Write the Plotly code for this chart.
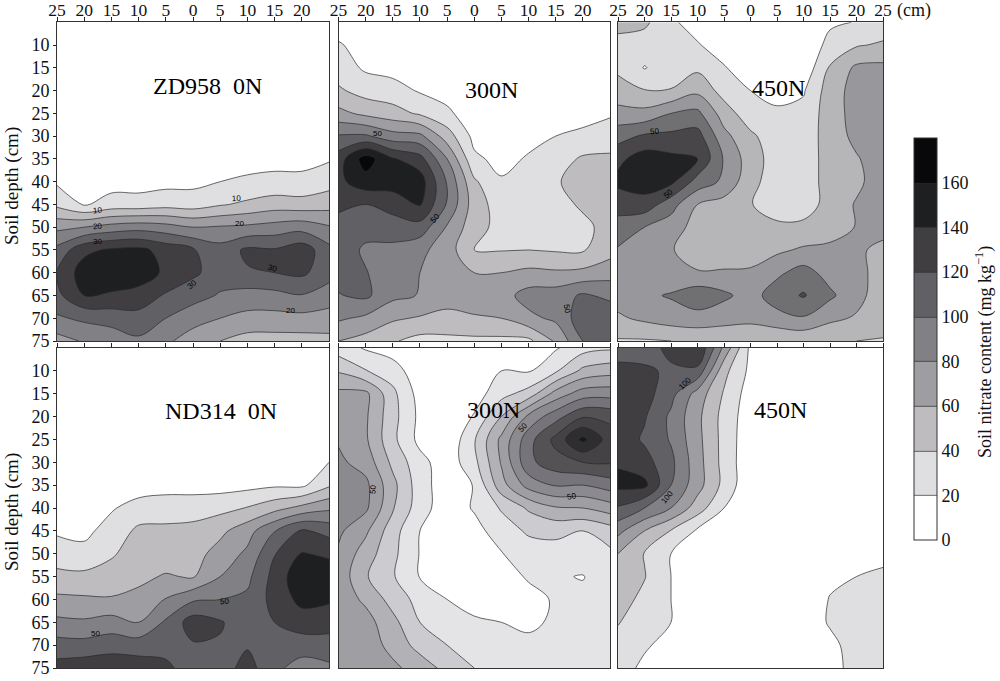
import numpy as np
import plotly.graph_objects as go

# grid
offsets = [-25, -20, -15, -10, -5, 0, 5, 10, 15, 20, 25]
depths = [5, 10, 15, 20, 25, 30, 35, 40, 45, 50, 55, 60, 65, 70, 75]
x_tick_text = ["25", "20", "15", "10", "5", "0", "5", "10", "15", "20", "25"]
y_ticks = [10, 15, 20, 25, 30, 35, 40, 45, 50, 55, 60, 65, 70, 75]
bar_ticks = [0, 20, 40, 60, 80, 100, 120, 140, 160]

# values on the colour-bar scale: one row per depth (ZD958 0N)
zd_0n = [
    [0, 0, 0, 0, 0, 0, 0, 0, 0, 0, 0],
    [0, 0, 0, 0, 0, 0, 0, 0, 0, 0, 0],
    [0, 0, 0, 0, 0, 0, 0, 0, 0, 0, 0],
    [0, 0, 0, 0, 0, 0, 0, 0, 0, 0, 1],
    [1, 1, 1, 1, 1, 1, 2, 2, 2, 2, 3],
    [4, 3, 3, 3, 4, 4, 5, 6, 6, 6, 8],
    [10, 6, 7, 8, 9, 10, 12, 13, 14, 14, 18],
    [17, 8, 12, 12, 14, 15, 20, 23, 25, 25, 32],
    [35, 18, 28, 28, 32, 30, 38, 44, 50, 48, 52],
    [75, 80, 88, 92, 88, 80, 82, 84, 88, 92, 82],
    [106, 135, 143, 145, 133, 122, 108, 124, 122, 132, 106],
    [122, 150, 155, 155, 135, 124, 110, 118, 120, 124, 108],
    [115, 140, 137, 130, 118, 108, 98, 92, 94, 99, 90],
    [97, 104, 108, 114, 100, 88, 80, 74, 73, 74, 72],
    [72, 82, 88, 96, 84, 70, 60, 52, 52, 52, 54],
]
# the remaining panels: one column per offset
zd_300n = [
    [5, 23, 30, 43, 66, 102, 130, 135, 123, 115, 110, 106, 99, 83, 60],
    [2, 8, 17, 32, 55, 103, 170, 152, 120, 107, 97, 101, 104, 76, 52],
    [0, 5, 13, 28, 48, 88, 142, 148, 130, 108, 96, 90, 85, 63, 42],
    [0, 0, 8, 18, 37, 85, 128, 150, 142, 112, 85, 80, 79, 58, 33],
    [0, 0, 3, 12, 24, 50, 80, 98, 98, 78, 70, 68, 66, 56, 34],
    [0, 0, 0, 3, 8, 14, 24, 43, 50, 48, 40, 60, 65, 59, 35],
    [0, 0, 0, 0, 3, 7, 14, 22, 30, 33, 39, 60, 72, 60, 35],
    [0, 0, 0, 0, 5, 14, 22, 30, 32, 33, 40, 65, 88, 75, 35],
    [0, 0, 0, 3, 10, 20, 30, 38, 33, 32, 38, 63, 90, 84, 63],
    [0, 0, 0, 5, 15, 23, 43, 48, 43, 35, 38, 65, 103, 112, 100],
    [0, 0, 3, 8, 18, 28, 44, 48, 48, 47, 52, 72, 95, 115, 112],
]
zd_450n = [
    [45, 35, 36, 48, 67, 92, 115, 125, 108, 92, 78, 72, 68, 57, 38],
    [44, 30, 19, 41, 66, 103, 130, 130, 112, 80, 72, 70, 76, 64, 38],
    [24, 26, 30, 41, 80, 105, 125, 125, 88, 70, 62, 65, 82, 70, 40],
    [10, 22, 36, 55, 85, 108, 120, 92, 60, 52, 46, 62, 92, 73, 42],
    [0, 8, 22, 32, 50, 66, 78, 76, 52, 46, 44, 63, 84, 68, 44],
    [0, 0, 5, 20, 28, 44, 50, 46, 41, 48, 53, 62, 72, 66, 42],
    [0, 0, 0, 14, 23, 28, 30, 30, 30, 44, 56, 76, 90, 73, 42],
    [0, 0, 6, 18, 26, 30, 32, 32, 32, 44, 63, 88, 102, 78, 44],
    [16, 28, 42, 50, 50, 48, 46, 46, 46, 50, 65, 72, 84, 64, 44],
    [21, 38, 64, 68, 68, 66, 58, 55, 62, 61, 62, 66, 66, 58, 40],
    [27, 43, 65, 72, 73, 72, 72, 72, 70, 64, 57, 52, 50, 46, 39],
]
nd_0n = [
    [0, 0, 0, 0, 0, 0, 3, 6, 18, 27, 47, 64, 85, 108, 128],
    [0, 0, 0, 0, 0, 0, 2, 6, 15, 26, 45, 63, 83, 107, 132],
    [0, 0, 0, 0, 0, 1, 10, 18, 28, 38, 47, 62, 88, 112, 133],
    [0, 0, 0, 0, 0, 2, 10, 28, 44, 48, 55, 66, 80, 110, 131],
    [0, 0, 0, 0, 0, 2, 12, 31, 44, 48, 62, 81, 103, 112, 125],
    [0, 0, 0, 0, 0, 3, 12, 31, 46, 52, 58, 97, 130, 118, 109],
    [0, 0, 0, 0, 1, 3, 12, 34, 55, 68, 80, 100, 122, 118, 110],
    [0, 0, 0, 0, 1, 4, 14, 41, 72, 84, 95, 104, 108, 118, 128],
    [0, 0, 0, 0, 1, 5, 17, 53, 99, 119, 127, 127, 120, 108, 105],
    [0, 0, 0, 0, 1, 6, 16, 66, 123, 141, 155, 146, 130, 110, 91],
    [0, 0, 0, 0, 8, 20, 37, 76, 113, 137, 150, 143, 128, 112, 96],
]
nd_300n = [
    [30, 58, 85, 92, 98, 104, 110, 113, 104, 97, 93, 92, 92, 92, 92],
    [18, 41, 85, 83, 83, 92, 105, 104, 84, 70, 62, 76, 88, 90, 90],
    [10, 30, 45, 47, 45, 55, 66, 62, 48, 45, 42, 52, 66, 74, 84],
    [0, 6, 12, 15, 14, 27, 29, 29, 20, 19, 19, 33, 40, 52, 72],
    [0, 0, 0, 0, 3, 8, 8, 8, 5, 3, 5, 20, 28, 40, 53],
    [0, 2, 10, 22, 38, 34, 21, 22, 13, 6, 6, 12, 23, 28, 40],
    [3, 20, 33, 60, 85, 82, 72, 42, 30, 19, 12, 13, 20, 26, 28],
    [8, 18, 48, 105, 132, 135, 108, 63, 43, 30, 22, 14, 15, 26, 28],
    [18, 37, 88, 132, 166, 152, 122, 78, 45, 32, 22, 22, 24, 27, 28],
    [32, 65, 110, 158, 205, 160, 120, 80, 40, 33, 19, 25, 27, 28, 29],
    [37, 72, 112, 155, 170, 162, 130, 90, 50, 36, 33, 32, 32, 32, 32],
]
nd_450n = [
    [112, 125, 130, 132, 133, 138, 145, 118, 86, 60, 54, 48, 41, 34, 30],
    [112, 123, 128, 122, 117, 128, 145, 100, 60, 39, 41, 35, 30, 23, 15],
    [125, 117, 107, 96, 98, 105, 100, 80, 39, 20, 20, 20, 20, 12, 5],
    [140, 115, 72, 65, 66, 68, 68, 50, 17, 5, 2, 2, 2, 2, 2],
    [75, 46, 38, 33, 33, 33, 34, 20, 10, 5, 2, 2, 2, 2, 2],
    [15, 15, 10, 8, 6, 5, 4, 3, 2, 2, 2, 2, 3, 4, 5],
    [0, 0, 0, 0, 0, 0, 0, 0, 0, 2, 2, 3, 4, 5, 5],
    [0, 0, 0, 0, 0, 0, 0, 0, 0, 2, 4, 6, 8, 10, 10],
    [0, 0, 0, 0, 0, 0, 0, 0, 2, 5, 16, 21, 22, 15, 12],
    [0, 0, 0, 0, 0, 0, 0, 0, 4, 10, 20, 27, 28, 28, 28],
    [0, 0, 0, 0, 0, 0, 0, 0, 6, 14, 24, 28, 30, 30, 30],
]

legend_bands = ["#ffffff", "#dfdfe1", "#bfbcc0", "#9e9da1", "#818084",
                "#616064", "#403e41", "#1e1f21", "#08080a"]
ol_450_bands = ["#ffffff", "#dcdcde", "#b6b5b8", "#98979b", "#706f72",
                "#484648", "#212224", "#101012", "#08080a"]
fine_bands = ["#ffffff", "#e4e3e5", "#cccbd0", "#b2b1b5", "#9f9ea2", "#8b8a8e",
              "#76747a", "#545254", "#444244", "#2e2e30", "#18181a"]

panel_titles = ["ZD958\u00a0\u00a00N", "300N", "450N", "ND314\u00a0\u00a00N", "300N", "450N"]
title_x = [2.6, 3.2, 5.2, 5.2, 3.5, 5.6]
title_y = [19, 19.9, 19.5, 18.7, 18.5, 18.5]

contour_labels = [
    (1, "10", -17.5, 46.4, -6), (1, "10", 8, 43.8, -3), (1, "20", -17.5, 49.8, -3),
    (1, "20", 8.5, 49.2, 0), (1, "30", -17.5, 53.2, 0), (1, "30", -0.2, 62.5, -40),
    (1, "30", 14.7, 59.0, 15), (1, "20", 18, 68.4, 0),
    (2, "50", -17.8, 29.4, 0), (2, "50", -7.2, 48.2, -50), (2, "50", 17.1, 67.8, 80),
    (3, "50", -18.2, 29, -5), (3, "50", -15.4, 42.7, -40),
    (4, "50", -18, 67.5, 0), (4, "50", 5.7, 60.4, -5),
    (5, "50", -18.6, 36, -85), (5, "50", 8.9, 22.3, -45), (5, "50", 17.9, 37.4, -10),
    (6, "100", -12.4, 12.7, -45), (6, "100", -15.8, 37.6, -50),
]

DOMX = [(57, 329), (338.5, 610), (618, 883)]
DOMY = [(22.3, 341), (348, 668)]
W, H = 1000, 681


def band_scale(colors):
    n = len(colors)
    out = []
    for i, c in enumerate(colors):
        out.append([i / n, c])
        out.append([(i + 1) / n, c])
    return out


fig = go.Figure()
tables = [
    (np.array(zd_0n), legend_bands),
    (np.array(zd_300n).T, legend_bands),
    (np.array(zd_450n).T, ol_450_bands),
    (np.array(nd_0n).T, legend_bands),
    (np.array(nd_300n).T, fine_bands),
    (np.array(nd_450n).T, legend_bands),
]

annotations = []
for i, (z, colors) in enumerate(tables):
    r, c = divmod(i, 3)
    k = i + 1
    xa, ya = ("xaxis" if k == 1 else f"xaxis{k}"), ("yaxis" if k == 1 else f"yaxis{k}")
    top = r == 0
    vals = offsets[:-1] if (top and c < 2) else offsets
    fig.update_layout({
        xa: dict(domain=[DOMX[c][0] / W, DOMX[c][1] / W], range=[-25, 25], side="top",
                 tickvals=vals, ticktext=x_tick_text[:len(vals)], showticklabels=top,
                 ticklabelstandoff=-6,
                 ticks="outside", ticklen=4, tickwidth=1, tickcolor="#222",
                 showline=True, mirror=True, linecolor="#333", linewidth=1,
                 showgrid=False, zeroline=False, anchor=f"y{k}" if k > 1 else "y",
                 tickfont=dict(size=17.5), tickangle=0),
        ya: dict(domain=[1 - DOMY[r][1] / H, 1 - DOMY[r][0] / H], range=[75, 5],
                 tickvals=y_ticks if c == 0 else [], ticks="outside" if c == 0 else "",
                 ticklen=3, tickwidth=1, tickcolor="#222", showticklabels=(c == 0),
                 showline=True, mirror=True, linecolor="#333", linewidth=1,
                 showgrid=False, zeroline=False, anchor=f"x{k}" if k > 1 else "x",
                 tickfont=dict(size=18)),
    })
    nb = len(colors)
    trace = go.Contour(
        x=offsets, y=depths, z=z.tolist(),
        xaxis=f"x{k}" if k > 1 else "x", yaxis=f"y{k}" if k > 1 else "y",
        zauto=False, zmin=0, zmax=20 * nb,
        autocontour=False,
        contours=dict(start=20, end=20 * (nb - 1), size=20, coloring="fill", showlabels=False),
        line=dict(color="#2a2a2a", width=0.7, smoothing=1.0),
        colorscale=band_scale(colors),
        hoverinfo="skip",
        showscale=(i == 0),
    )
    if i == 0:
        trace.colorbar = dict(
            thickness=23, thicknessmode="pixels", len=402, lenmode="pixels",
            x=914 / W, xanchor="left", xpad=0, y=1 - 540 / H, yanchor="bottom", ypad=0,
            tickvals=bar_ticks, ticks="", tickfont=dict(size=18),
            outlinecolor="#333", outlinewidth=1,
        )
    fig.add_trace(trace)
    annotations.append(dict(
        text=panel_titles[i], x=title_x[i], y=title_y[i],
        xref=f"x{k}" if k > 1 else "x", yref=f"y{k}" if k > 1 else "y",
        showarrow=False, font=dict(size=24, color="#000"), xanchor="center", yanchor="middle"))

for k, t, xv, yv, ang in contour_labels:
    annotations.append(dict(
        text=t, x=xv, y=yv, xref=f"x{k}" if k > 1 else "x", yref=f"y{k}" if k > 1 else "y",
        showarrow=False, textangle=ang,
        font=dict(size=8, color="#000", family="Liberation Sans")))

for cy in (186, 512):
    annotations.append(dict(text="Soil depth (cm)", x=12 / W, y=1 - cy / H, xref="paper", yref="paper",
                            xanchor="center", yanchor="middle",
                            textangle=-90, showarrow=False, font=dict(size=19)))
annotations.append(dict(text="Soil nitrate content (mg kg<sup>\u22121</sup>)", x=984 / W, y=1 - 352 / H,
                        xref="paper", yref="paper", xanchor="center", yanchor="middle",
                        textangle=-90, showarrow=False, font=dict(size=18)))
annotations.append(dict(text="(cm)", x=895 / W, y=1 - 10 / H, xref="paper", yref="paper",
                        xanchor="left", yanchor="middle", showarrow=False, font=dict(size=18)))

fig.update_layout(
    width=W, height=H, margin=dict(l=0, r=0, t=0, b=0, autoexpand=False),
    paper_bgcolor="white", plot_bgcolor="white",
    font=dict(family="Liberation Serif", color="#111"),
    showlegend=False, annotations=annotations,
)
fig.write_html("out.html", config=dict(displayModeBar=False),
               post_script="document.body.style.margin='0';")
